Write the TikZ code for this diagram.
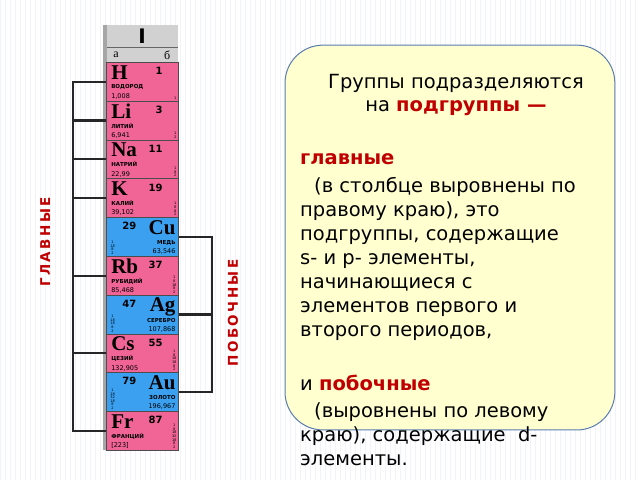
\documentclass[tikz,border=0pt]{standalone}
\usepackage{fontspec}
\setmainfont{DejaVu Sans}
\newfontfamily\symfont{Liberation Serif}
\newfontfamily\lblfont[LetterSpace=18]{DejaVu Sans}
\usetikzlibrary{positioning}
\definecolor{mainpink}{RGB}{240,100,150}
\definecolor{sideblue}{RGB}{60,160,240}
\definecolor{boxfill}{RGB}{255,255,208}
\definecolor{boxline}{RGB}{90,125,175}
\definecolor{redtxt}{RGB}{192,0,0}
\tikzset{
  cell/.style={draw=black!70,line width=.6pt,minimum width=72pt,minimum height=38.8pt,inner sep=0pt,anchor=north west},
  glav/.style={cell,fill=mainpink},
  poboch/.style={cell,fill=sideblue},
  sym/.style={font=\symfont\bfseries\fontsize{21}{21}\selectfont,inner sep=0pt},
  num/.style={font=\bfseries\fontsize{10}{10}\selectfont,inner sep=0pt},
  ename/.style={font=\bfseries\fontsize{5.5}{5.5}\selectfont,inner sep=0pt},
  mass/.style={font=\fontsize{6.5}{6.5}\selectfont,inner sep=0pt},
  shell/.style={font=\fontsize{3.5}{3.6}\selectfont,align=center,inner sep=0pt},
  bracket/.style={line width=2.2pt,black!85},
  vlabel/.style={rotate=90,text=redtxt,font=\lblfont\bfseries\fontsize{13.5}{13.5}\selectfont}
}
\begin{document}
\begin{tikzpicture}[x=1pt,y=-1pt]
  \fill[white] (0,0) rectangle (640,480);
  \draw[blue!5,line width=.3pt] (0,0) grid[step=5] (640,480);
  % header
  \fill[black!18] (106,25) rectangle (178,62);
  \draw[black!60] (106,47) -- (178,47);
  \fill[black!35] (103,25) rectangle (107,450);
  \node[font=\bfseries\fontsize{20}{20}\selectfont] at (142,36) {I};
  \node[font=\symfont\fontsize{12}{12}\selectfont] at (116,55) {а};
  \node[font=\symfont\fontsize{12}{12}\selectfont] at (167,55) {б};
  % main subgroup cells
  \node[glav] (H)  at (106,62)  {};
  \node[glav] (Li) at (106,100.8) {};
  \node[glav] (Na) at (106,139.6) {};
  \node[glav] (K)  at (106,178.4) {};
  \node[poboch] (Cu) at (106,217.2) {};
  \node[glav] (Rb) at (106,256) {};
  \node[poboch] (Ag) at (106,294.8) {};
  \node[glav] (Cs) at (106,333.6) {};
  \node[poboch] (Au) at (106,372.4) {};
  \node[glav] (Fr) at (106,411.2) {};
  % pink cells text
  \foreach \c/\s/\n/\nm/\m/\sh in {H/H/1/ВОДОРОД/{1,008}/{1}, Li/Li/3/ЛИТИЙ/{6,941}/{1\\2}, Na/Na/11/НАТРИЙ/{22,99}/{1\\8\\2},
      K/K/19/КАЛИЙ/{39,102}/{1\\8\\8\\2}, Rb/Rb/37/РУБИДИЙ/{85,468}/{1\\8\\18\\8\\2},
      Cs/Cs/55/ЦЕЗИЙ/{132,905}/{1\\8\\18\\18\\8\\2}, Fr/Fr/87/ФРАНЦИЙ/{[223]}/{1\\8\\18\\32\\18\\8\\2}} {
    \node[sym,anchor=north west] at ([xshift=5pt,yshift=-3pt]\c.north west) {\s};
    \node[num,anchor=north east] at ([xshift=-16pt,yshift=-5pt]\c.north east) {\n};
    \node[ename,anchor=north west] at ([xshift=5pt,yshift=-22pt]\c.north west) {\nm};
    \node[mass,anchor=south west] at ([xshift=5pt,yshift=2pt]\c.south west) {\m};
    \node[shell,anchor=south east] at ([xshift=-2pt,yshift=2pt]\c.south east) {\sh};
  }
  % blue cells text
  \foreach \c/\s/\n/\nm/\m/\sh in {Cu/Cu/29/МЕДЬ/{63,546}/{1\\18\\8\\2}, Ag/Ag/47/СЕРЕБРО/{107,868}/{1\\18\\18\\8\\2},
      Au/Au/79/ЗОЛОТО/{196,967}/{1\\18\\32\\18\\8\\2}} {
    \node[sym,anchor=north east] at ([xshift=-3pt,yshift=-3pt]\c.north east) {\s};
    \node[num,anchor=north west] at ([xshift=16pt,yshift=-5pt]\c.north west) {\n};
    \node[ename,anchor=north east] at ([xshift=-3pt,yshift=-23pt]\c.north east) {\nm};
    \node[mass,anchor=south east] at ([xshift=-3pt,yshift=2pt]\c.south east) {\m};
    \node[shell,anchor=south west] at ([xshift=4pt,yshift=2pt]\c.south west) {\sh};
  }
  % brackets
  \coordinate (gl) at (73,0);
  \coordinate (pb) at (212,0);
  \draw[bracket] (H.west) -| (gl |- Fr.west) -- (Fr.west);
  \foreach \c in {Li,Na,K,Rb,Cs} \draw[bracket] (\c.west) -- (gl |- \c.west);
  \draw[bracket] (Cu.east) -| (pb |- Au.east) -- (Au.east);
  \draw[bracket] (Ag.east) -- (pb |- Ag.east);
  \node[vlabel] (glav) at (45,242) {ГЛАВНЫЕ};
  \node[vlabel] (pob) at (233,313) {ПОБОЧНЫЕ};
  % text box
  \draw[boxline,fill=boxfill,line width=1pt,rounded corners=38pt] (285,45) rectangle (615,430);
  \node[align=center,font=\fontsize{19.5}{23.5}\selectfont] (title) at (456,95)
    {Группы подразделяются\\на \textcolor{redtxt}{\bfseries подгруппы —}};
  \node[align=left,anchor=north west,inner sep=0pt,font=\fontsize{19.5}{24}\selectfont] (body) at (300,153)
    {\textcolor{redtxt}{\bfseries главные}\\[4pt]
     \hspace*{14pt}(в столбце выровнены по\\
     правому краю), это\\
     подгруппы, содержащие\\
     s- и p- элементы,\\
     начинающиеся с\\
     элементов первого и\\
     второго периодов,\\[30pt]
     и \textcolor{redtxt}{\bfseries побочные}\\[3pt]
     \hspace*{14pt}(выровнены по левому\\
     краю), содержащие\ \ d-\\
     элементы.};
\end{tikzpicture}
\end{document}
